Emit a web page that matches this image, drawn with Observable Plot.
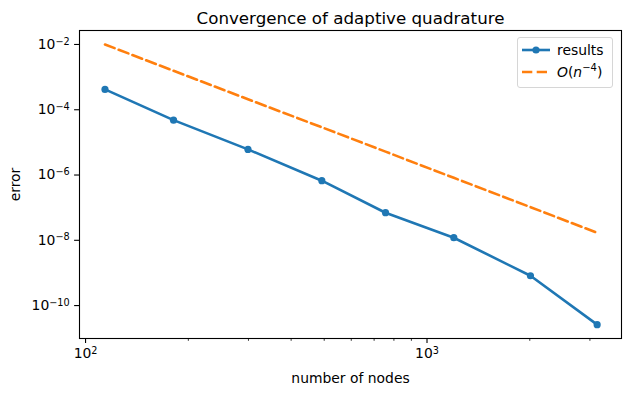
<!DOCTYPE html>
<html><head><meta charset="utf-8">
<script src="https://cdn.jsdelivr.net/npm/d3@7"></script>
<script src="https://cdn.jsdelivr.net/npm/@observablehq/plot@0.6"></script>
<style>
body{margin:0;background:#fff;font-family:"DejaVu Sans",sans-serif;}
#wrap{position:relative;width:631px;height:396px;}
.legend{position:absolute;left:517px;top:37px;width:96px;height:51px;border:1px solid #d6d6d6;border-radius:3px;background:rgba(255,255,255,0.8);box-sizing:border-box;font-size:13.9px;color:#000;}
.legend .row{position:absolute;left:0;height:20px;display:flex;align-items:center;white-space:nowrap;}
.legend svg{margin-left:4px;margin-right:7px;}
.legend sup{font-size:10px;line-height:0;vertical-align:6px;}
</style></head><body><div id="wrap"></div>
<script>
const title = "Convergence of adaptive quadrature";
const nodes = [114, 181, 299, 492, 756, 1198, 2009, 3150];
const errors = [4.2e-4, 4.8e-5, 6.1e-6, 6.7e-7, 7.0e-8, 1.2e-8, 8.2e-10, 2.6e-11];
const refErrors = [1.0e-2, 1.57e-3, 2.1e-4, 2.9e-5, 5.2e-6, 8.2e-7, 1.04e-7, 1.7e-8];
const xMajor = [100, 1000];
const xMinor = [200, 300, 400, 500, 600, 700, 800, 900, 2000, 3000];
const yMajor = [1e-2, 1e-4, 1e-6, 1e-8, 1e-10];
const legendLabels = ["results", "O(n^-4)"];

const fmt = d => "10^" + String(Math.round(Math.log10(d))).replace("-", "\u2212");

const table = nodes.map((n, i) => ({n, err: errors[i], ref: refErrors[i]}));

const chart = Plot.plot({
  width: 631, height: 396,
  marginLeft: 79, marginRight: 10, marginTop: 30, marginBottom: 58,
  style: {fontFamily: "DejaVu Sans", fontSize: "13.9px", background: "white", color: "black"},
  x: {type: "log", domain: [96, 3712]},
  y: {type: "log", domain: [9.8e-12, 0.0268]},
  marks: [
    Plot.line(table, {x: "n", y: "ref", stroke: "#ff7f0e", strokeWidth: 2.6, strokeDasharray: "10.3,4.4"}),
    Plot.line(table, {x: "n", y: "err", stroke: "#1f77b4", strokeWidth: 2.6}),
    Plot.dot(table, {x: "n", y: "err", fill: "#1f77b4", r: 3.6}),
    Plot.axisX({ticks: xMinor, tickSize: 2.8, strokeWidth: 0.8, tickFormat: () => "", label: null}),
    Plot.axisX({ticks: xMajor, tickSize: 4.9, tickPadding: 4.9, strokeWidth: 1.1, tickFormat: fmt, label: "number of nodes", labelAnchor: "center", labelArrow: "none", labelOffset: 44}),
    Plot.axisY({ticks: yMajor, tickSize: 4.9, tickPadding: 4.9, strokeWidth: 1.1, tickFormat: fmt, label: "error", labelAnchor: "center", labelArrow: "none", labelOffset: 69}),
    Plot.frame({stroke: "black", strokeWidth: 1.1}),
    Plot.text([title], {frameAnchor: "top", dy: -18, fontSize: 16.7, text: d => d, fill: "black"})
  ]
});
const wrap = document.getElementById("wrap");
wrap.appendChild(chart);

// Render "10^e" tick labels with a raised exponent like matplotlib mathtext
d3.select(chart).selectAll("text").each(function() {
  const t = d3.select(this);
  const s = t.text();
  if (!s.startsWith("10^")) return;
  const e = s.slice(3);
  t.text("10");
  t.append("tspan").attr("dy", "-0.45em").attr("font-size", "9.7px").text(e);
});

const leg = document.createElement("div");
leg.className = "legend";
leg.innerHTML = `
<div class="row" style="top:2px"><svg width="28" height="10"><line x1="0" y1="5" x2="28" y2="5" stroke="#1f77b4" stroke-width="2.6"/><circle cx="14" cy="5" r="3.6" fill="#1f77b4"/></svg><span>${legendLabels[0]}</span></div>
<div class="row" style="top:24px"><svg width="28" height="10"><line x1="0" y1="5" x2="28" y2="5" stroke="#ff7f0e" stroke-width="2.6" stroke-dasharray="10.3,4.4"/></svg><span><i>O</i>(<i>n</i><sup>\u22124</sup>)</span></div>`;
wrap.appendChild(leg);
</script></body></html>
